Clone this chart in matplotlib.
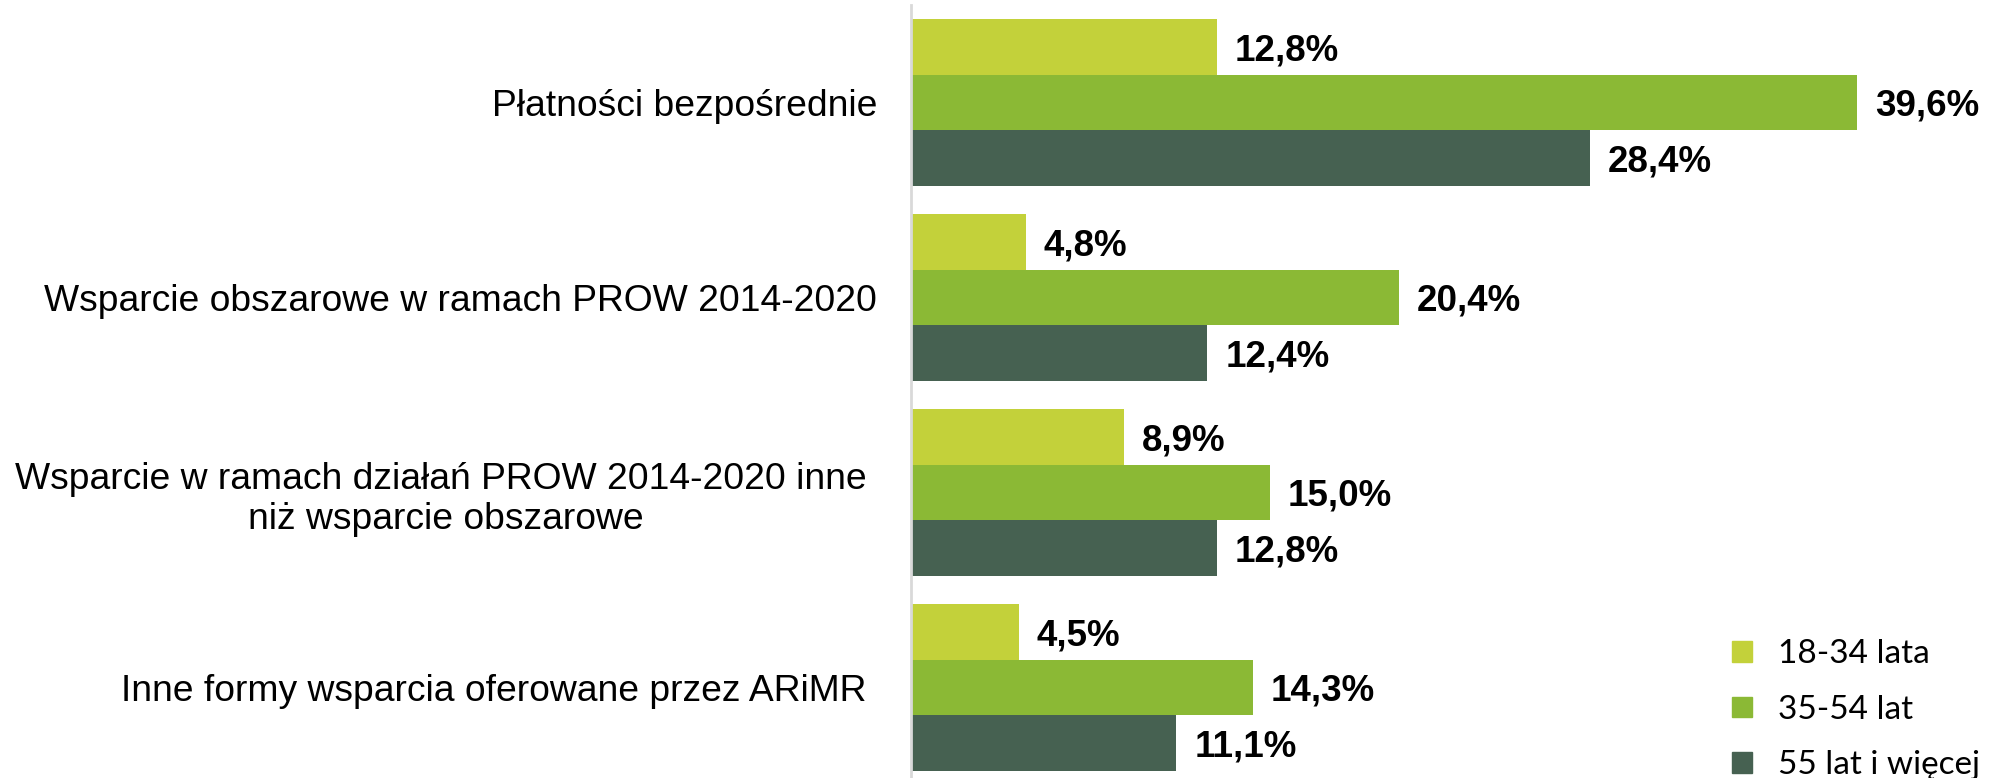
import matplotlib.pyplot as plt
from matplotlib.patches import Patch

categories = [
    "Płatności bezpośrednie",
    "Wsparcie obszarowe w ramach PROW 2014-2020",
    "Wsparcie w ramach działań PROW 2014-2020 inne \nniż wsparcie obszarowe",
    "Inne formy wsparcia oferowane przez ARiMR ",
]
series_names = ["18-34 lata", "35-54 lat", "55 lat i więcej"]
age_18_34 = [12.8, 4.8, 8.9, 4.5]
age_35_54 = [39.6, 20.4, 15.0, 14.3]
age_55_plus = [28.4, 12.4, 12.8, 11.1]

colors = ["#C3D13A", "#8BB935", "#466151"]


def main():
    fig = plt.figure(figsize=(19.93, 7.78), dpi=100)
    ax = fig.add_axes([911 / 1993, -7 / 778, 1 - 911 / 1993, 780 / 778])

    bar_h = 1 / 3.5
    series = [age_18_34, age_35_54, age_55_plus]
    for i, vals in enumerate(series):
        offset = (i - 1) * bar_h
        ys = [k + offset for k in range(len(categories))]
        bars = ax.barh(ys, vals, height=bar_h, color=colors[i], label=series_names[i])
        for b, v in zip(bars, vals):
            ax.text(
                b.get_width() + 0.75,
                b.get_y() + b.get_height() / 2 + 0.02,
                f"{v:.1f}%".replace(".", ","),
                ha="left",
                va="center",
                fontsize=26.5,
                fontweight="bold",
                family="Liberation Sans",
            )

    ax.set_ylim(len(categories) - 0.5, -0.5)
    ax.set_xlim(0, (1993 - 911) / 23.9)
    ax.set_yticks(range(len(categories)))
    ax.set_yticklabels(categories, fontsize=26.8, family="Liberation Sans")
    for t in ax.get_yticklabels():
        t.set_multialignment("center")
    ax.tick_params(axis="y", length=0, pad=24.5)
    ax.set_xticks([])
    for s in ("top", "right", "bottom"):
        ax.spines[s].set_visible(False)
    ax.spines["left"].set_color("#D9D9D9")
    ax.spines["left"].set_linewidth(2)

    handles = [Patch(color=c) for c in colors]
    fig.legend(
        handles,
        series_names,
        loc="upper left",
        bbox_to_anchor=(1719 / 1993, 1 - 626 / 778),
        frameon=False,
        prop={"family": "Lato", "size": 24},
        handlelength=0.58,
        handleheight=0.58,
        handletextpad=0.8,
        labelspacing=0.76,
        borderaxespad=0,
    )

    fig.savefig("out.png", dpi=100)


if __name__ == "__main__":
    main()
